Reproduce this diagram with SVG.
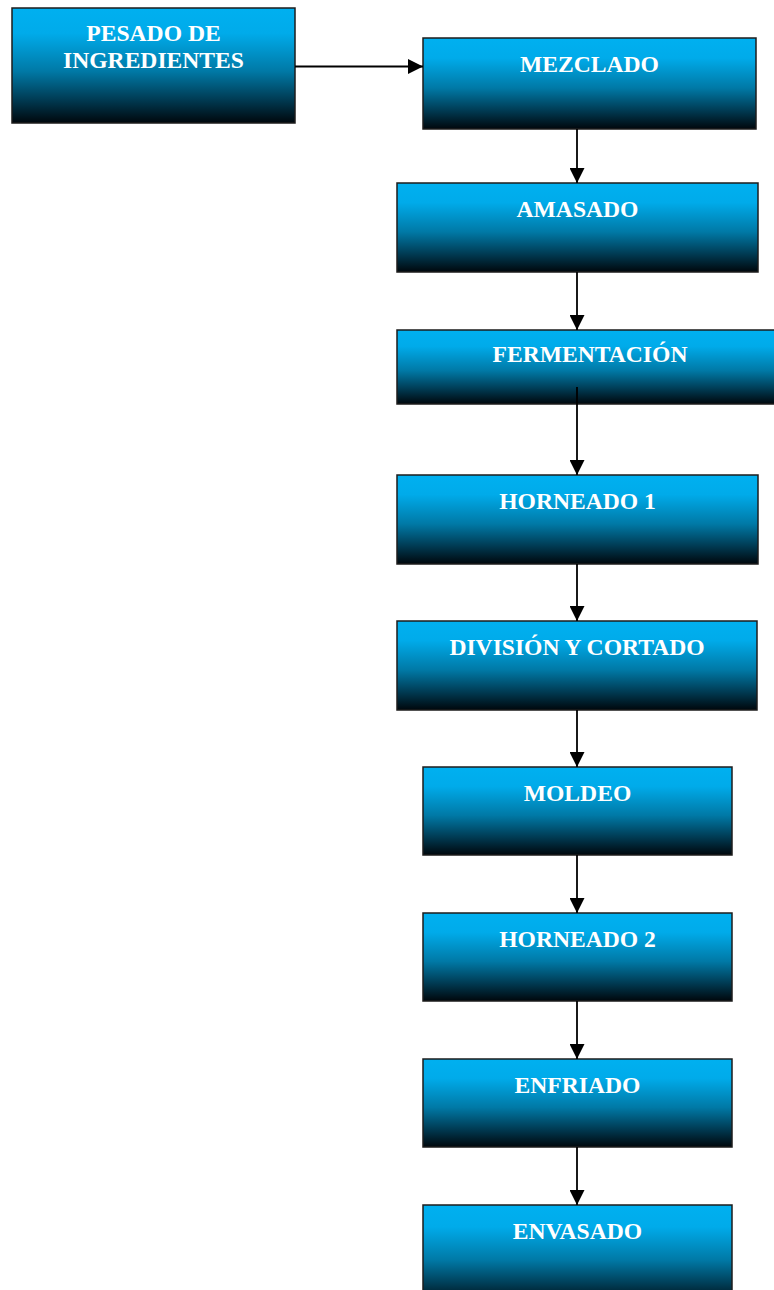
<svg xmlns="http://www.w3.org/2000/svg" width="774" height="1290" viewBox="0 0 774 1290">
  <defs>
    <linearGradient id="boxFill" x1="0" y1="0" x2="0" y2="1">
      <stop offset="0" stop-color="#00B0F0"/>
      <stop offset="0.22" stop-color="#00ABEA"/>
      <stop offset="0.55" stop-color="#0079A6"/>
      <stop offset="0.8" stop-color="#003A52"/>
      <stop offset="1" stop-color="#00070C"/>
    </linearGradient>
    <marker id="arrow" markerWidth="15" markerHeight="15" refX="15" refY="7.5" orient="auto" markerUnits="userSpaceOnUse">
      <path d="M0,0 L15,7.5 L0,15 Z" fill="#000"/>
    </marker>
    <style>
      .box { fill: url(#boxFill); stroke: #1c1c1c; stroke-width: 1.5; }
      .label { font-family: "Liberation Serif", "Times New Roman", serif; font-weight: bold; font-size: 23.6px; fill: #ffffff; text-anchor: middle; }
      .conn { stroke: #000; stroke-width: 1.8; fill: none; marker-end: url(#arrow); }
    </style>
  </defs>

  <rect width="774" height="1290" fill="#ffffff"/>

  <g id="pesado">
    <rect class="box" x="12" y="8" width="283" height="115"/>
    <text class="label" x="153.5" y="41">PESADO DE</text>
    <text class="label" x="153.5" y="68">INGREDIENTES</text>
  </g>

  <g id="mezclado">
    <rect class="box" x="423" y="38" width="333" height="91"/>
    <text class="label" x="589.5" y="72">MEZCLADO</text>
  </g>

  <g id="amasado">
    <rect class="box" x="397" y="183" width="361" height="89"/>
    <text class="label" x="577.5" y="217">AMASADO</text>
  </g>

  <g id="fermentacion">
    <rect class="box" x="397" y="330" width="386" height="74"/>
    <text class="label" x="590" y="362">FERMENTACIÓN</text>
  </g>

  <g id="horneado1">
    <rect class="box" x="397" y="475" width="361" height="89"/>
    <text class="label" x="577.5" y="509">HORNEADO 1</text>
  </g>

  <g id="division">
    <rect class="box" x="397" y="621" width="360" height="89"/>
    <text class="label" x="577" y="655">DIVISIÓN Y CORTADO</text>
  </g>

  <g id="moldeo">
    <rect class="box" x="423" y="767" width="309" height="88"/>
    <text class="label" x="577.5" y="801">MOLDEO</text>
  </g>

  <g id="horneado2">
    <rect class="box" x="423" y="913" width="309" height="88"/>
    <text class="label" x="577.5" y="947">HORNEADO 2</text>
  </g>

  <g id="enfriado">
    <rect class="box" x="423" y="1059" width="309" height="88"/>
    <text class="label" x="577.5" y="1093">ENFRIADO</text>
  </g>

  <g id="envasado">
    <rect class="box" x="423" y="1205" width="309" height="100"/>
    <text class="label" x="577.5" y="1239">ENVASADO</text>
  </g>

  <g id="connectors">
    <line class="conn" x1="295" y1="66.5" x2="423" y2="66.5"/>
    <line class="conn" x1="577" y1="129" x2="577" y2="183"/>
    <line class="conn" x1="577" y1="272" x2="577" y2="330"/>
    <line class="conn" x1="577" y1="387" x2="577" y2="475"/>
    <line class="conn" x1="577" y1="564" x2="577" y2="621"/>
    <line class="conn" x1="577" y1="710" x2="577" y2="767"/>
    <line class="conn" x1="577" y1="855" x2="577" y2="913"/>
    <line class="conn" x1="577" y1="1001" x2="577" y2="1059"/>
    <line class="conn" x1="577" y1="1147" x2="577" y2="1205"/>
  </g>
</svg>
